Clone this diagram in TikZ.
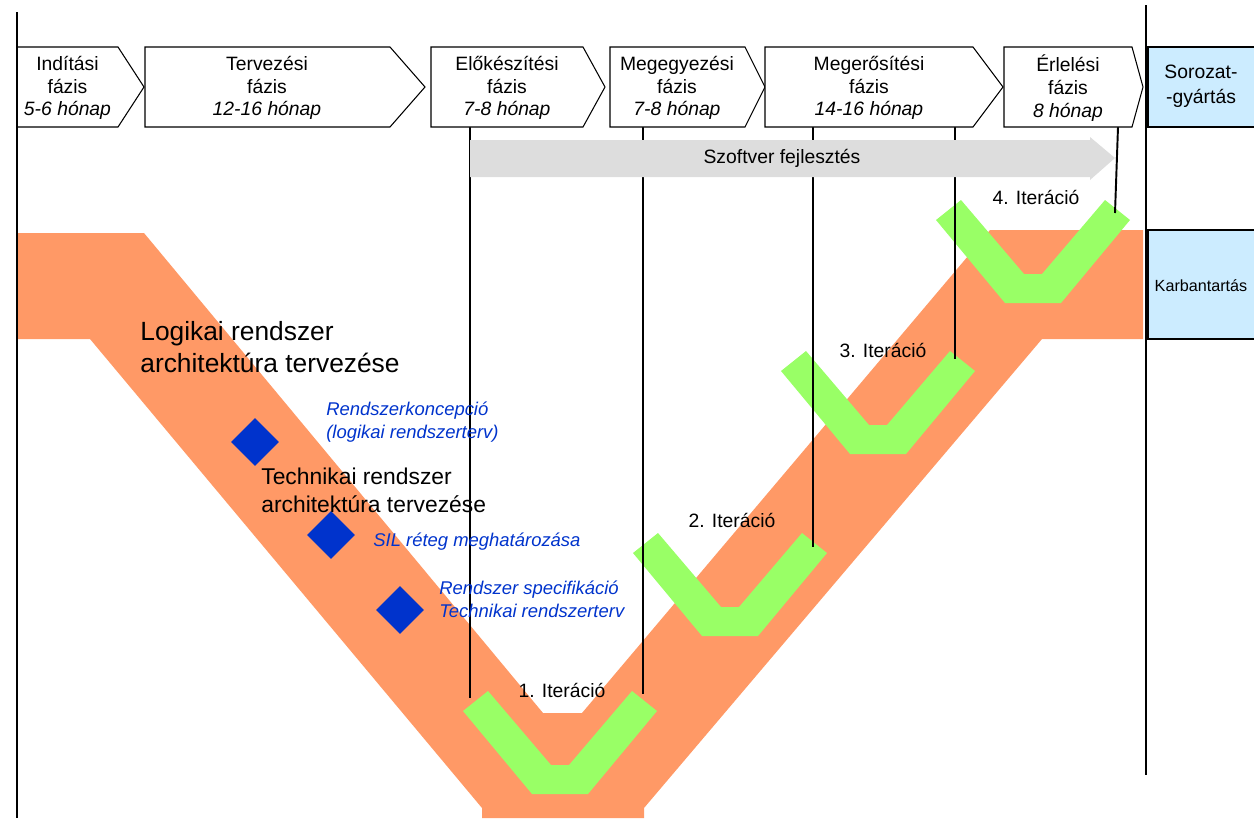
\documentclass[tikz,border=0pt]{standalone}
\usepackage{fontspec}
\setmainfont{Liberation Sans}
\usetikzlibrary{shapes.geometric}
\definecolor{vorange}{HTML}{FF9966}
\definecolor{vgreen}{HTML}{99FF66}
\definecolor{dblue}{HTML}{0033CC}
\definecolor{lblue}{HTML}{CCECFF}
\definecolor{agray}{HTML}{DDDDDD}
\begin{document}
\begin{tikzpicture}[x={(0.02cm,0)},y={(0,-0.02cm)},
  phase/.style={draw=black,line width=0.6pt,fill=white},
  phtext/.style={font=\fontsize{11}{13}\selectfont,align=center,inner sep=0pt},
  itlabel/.style={font=\fontsize{11}{13}\selectfont,inner sep=0pt},
  bluetext/.style={font=\fontsize{10.5}{12.7}\selectfont\itshape,text=dblue,align=left,inner sep=0pt,anchor=base west},
  bigtext/.style={align=left,inner sep=0pt,anchor=base west},
  conn/.style={draw=black,line width=1.1pt},
  frame/.style={draw=black,line width=1.6pt},
  dia/.style={shape=diamond,fill=dblue,minimum width=0.96cm,minimum height=0.96cm,inner sep=0pt},
  bluebox/.style={draw=black,line width=0.6pt,fill=lblue},
  vshape/.pic={\fill[vgreen] (-97,-83) -- (-28,0) -- (28,0) -- (97,-83) -- (72,-103) -- (9,-29) -- (-9,-29) -- (-72,-103) -- cycle;}]
\useasboundingbox (0,0) rectangle (1254,818);
% orange V band
\fill[vorange] (17,233) -- (144,233) -- (543,713) -- (582,713) -- (990,230) -- (1143,230) -- (1143,339) -- (1042,339) -- (644,808) -- (644,818) -- (482,818) -- (482,808) -- (90,339) -- (17,339) -- cycle;
% green iterations
\pic at (560,794) {vshape};
\pic at (730,636) {vshape};
\pic at (878,454) {vshape};
\pic at (1033,303) {vshape};
% connector coordinates
\coordinate (c1a) at (470,127); \coordinate (c1b) at (470,698);
\coordinate (c2a) at (643,127); \coordinate (c2b) at (643,694);
\coordinate (c3a) at (813,127); \coordinate (c3b) at (813,547);
\coordinate (c4a) at (955,127); \coordinate (c4b) at (955,359);
\coordinate (c5a) at (1118,127); \coordinate (c5b) at (1115,213);
\draw[conn] (c1a) -- (c1b);
\draw[conn] (c2a) -- (c2b);
\draw[conn] (c3a) -- (c3b);
\draw[conn] (c4a) -- (c4b);
\draw[conn] (c5a) -- (c5b);
% software arrow
\fill[agray] (470,140) -- (1090,140) -- (1090,137) -- (1115,158) -- (1090,180) -- (1090,177) -- (470,177) -- cycle;
\node[itlabel] (sw) at (782,158) {Szoftver fejlesztés};
% phase boxes
\path[phase] (17,47) -- (118,47) -- (144,87) -- (118,127) -- (17,127) -- cycle;
\path[phase] (145,47) -- (390,47) -- (425,87) -- (390,127) -- (145,127) -- cycle;
\path[phase] (431,47) -- (583,47) -- (605,87) -- (583,127) -- (431,127) -- cycle;
\path[phase] (610,47) -- (745,47) -- (765,87) -- (745,127) -- (610,127) -- cycle;
\path[phase] (765,47) -- (973,47) -- (1003,87) -- (973,127) -- (765,127) -- cycle;
\path[phase] (1004,47) -- (1132,47) -- (1143,87) -- (1132,127) -- (1004,127) -- cycle;
\node[phtext] (p1) at (67.5,88) {Indítási\\fázis\\\textit{5-6 hónap}};
\node[phtext] (p2) at (267,88) {Tervezési\\fázis\\\textit{12-16 hónap}};
\node[phtext] (p3) at (507,88) {Előkészítési\\fázis\\\textit{7-8 hónap}};
\node[phtext] (p4) at (677,88) {Megegyezési\\fázis\\\textit{7-8 hónap}};
\node[phtext] (p5) at (869,88) {Megerősítési\\fázis\\\textit{14-16 hónap}};
\node[phtext] (p6) at (1068,88) {Érlelési\\fázis\\\textit{8 hónap}};
% right boxes
\path[bluebox] (1256,47) -- (1148,47) -- (1148,127) -- (1256,127);
\path[bluebox] (1256,230) -- (1148,230) -- (1148,339) -- (1256,339);
\node[phtext,font=\fontsize{11}{14.5}\selectfont] (sg) at (1201,86) {Sorozat-\\-gyártás};
\node[itlabel,font=\fontsize{9.2}{11}\selectfont] (kb) at (1201,286) {Karbantartás};
% frame lines
\coordinate (fl1) at (17,12); \coordinate (fl2) at (17,818);
\coordinate (fr1) at (1146,5); \coordinate (fr2) at (1146,775);
\draw[frame] (fl1) -- (fl2);
\draw[frame] (fr1) -- (fr2);
% diamonds
\node[dia] (d1) at (255,442) {};
\node[dia] (d2) at (331,535) {};
\node[dia] (d3) at (400,610) {};
% texts (base anchor = baseline of the last line)
\node[bigtext,font=\fontsize{15}{18}\selectfont] (logi) at (140,372) {Logikai rendszer\\architektúra tervezése};
\node[bigtext,font=\fontsize{13}{15.5}\selectfont] (tech) at (261,512) {Technikai rendszer\\architektúra tervezése};
\node[bluetext] (rk) at (326,438) {Rendszerkoncepció\\(logikai rendszerterv)};
\node[bluetext] (sil) at (373,546) {SIL réteg meghatározása};
\node[bluetext] (rs) at (439,617) {Rendszer specifikáció\\Technikai rendszerterv};
\node[itlabel] (it1) at (562,690) {1. Iteráció};
\node[itlabel] (it2) at (732,520) {2. Iteráció};
\node[itlabel] (it3) at (883,350) {3. Iteráció};
\node[itlabel] (it4) at (1036,197) {4. Iteráció};
\end{tikzpicture}
\end{document}
